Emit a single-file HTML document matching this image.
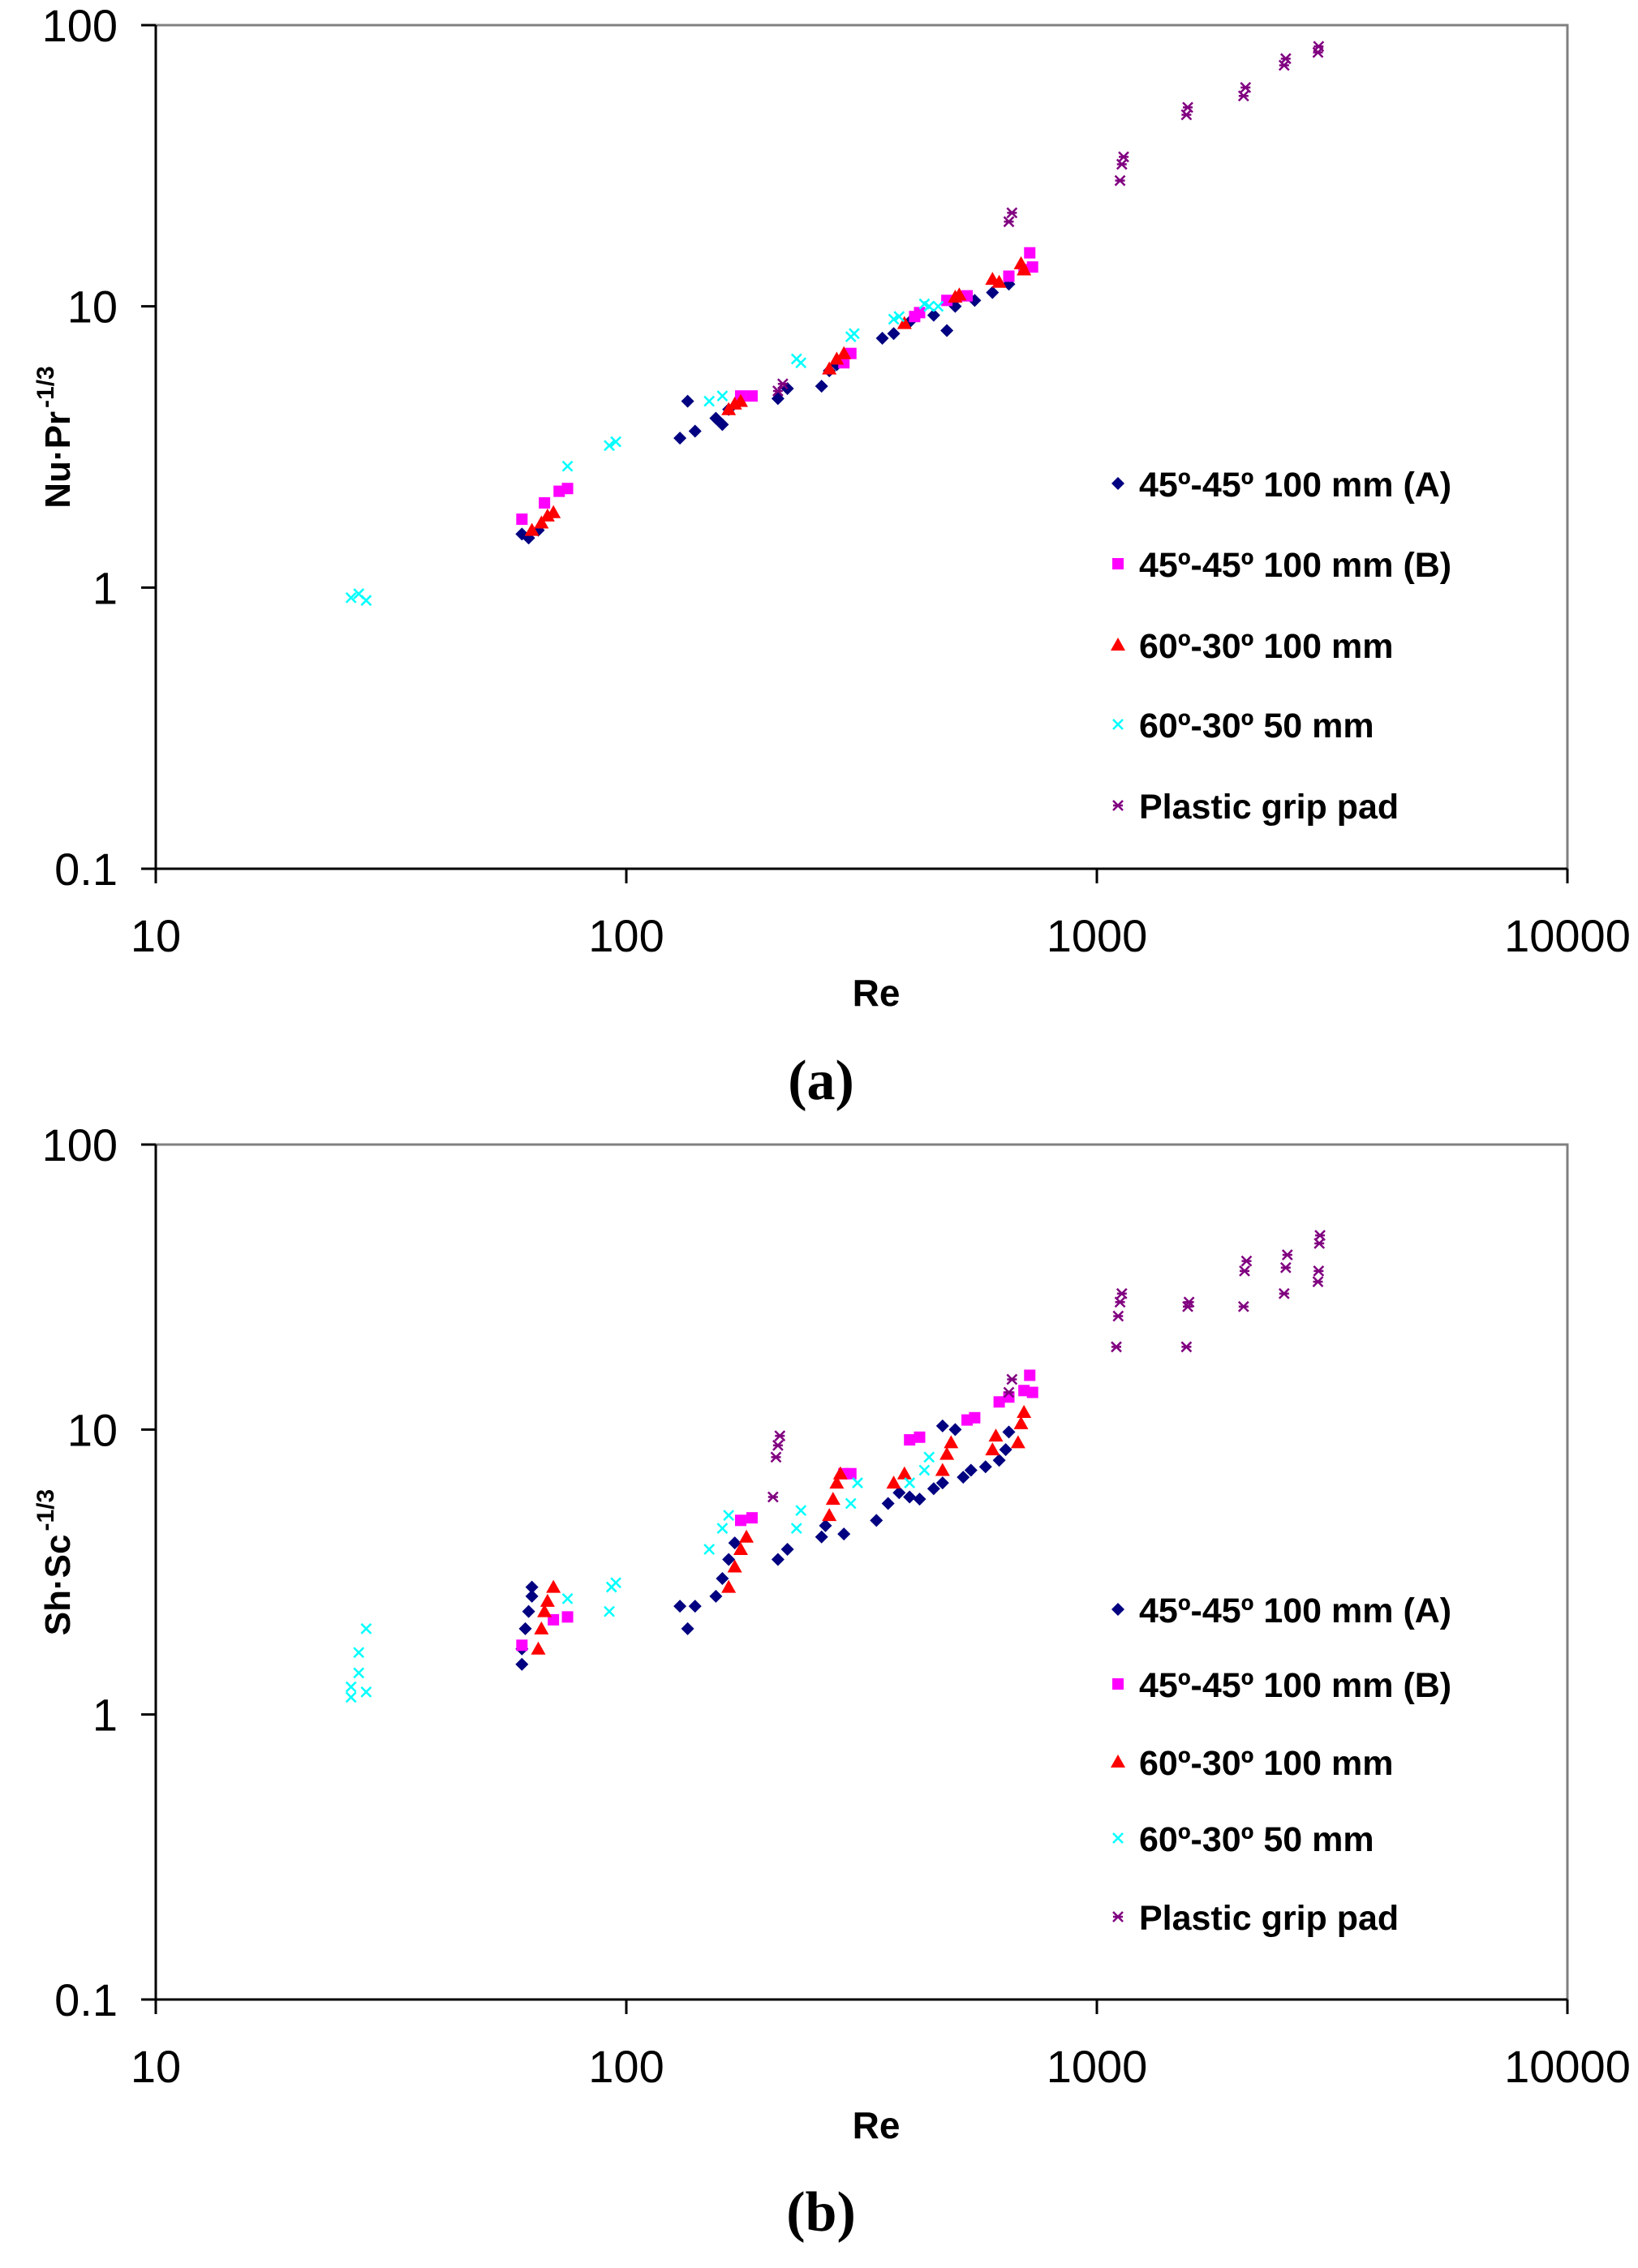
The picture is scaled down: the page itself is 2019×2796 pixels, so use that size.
<!DOCTYPE html>
<html><head><meta charset="utf-8"><style>
html,body{margin:0;padding:0;background:#fff;}
svg{display:block;font-family:"Liberation Sans",Arial,sans-serif;}
</style></head><body>
<svg id="fig" width="2019" height="2796" viewBox="0 0 2019 2796" xmlns="http://www.w3.org/2000/svg"></svg>
<script>
// ---------- Chart (a) data ----------
const seriesNames = ["45º-45º 100 mm (A)","45º-45º 100 mm (B)","60º-30º 100 mm","60º-30º 50 mm","Plastic grip pad"];
const xTicks = [10,100,1000,10000];
const xTickLabels = ["10","100","1000","10000"];
const yTicks = [0.1,1,10,100];
const yTickLabels = ["0.1","1","10","100"];

const aA_re = [60,62,65,130,135,140,155,160,165,210,220,260,270,280,350,370,400,450,480,500,550,600,650];
const aA_v  = [1.55,1.5,1.6,3.4,4.6,3.6,4.0,3.8,4.3,4.7,5.1,5.2,5.9,6.2,7.7,8.0,8.8,9.3,8.2,10,10.5,11.2,12.0];
const aB_re = [60,67,72,75,175,185,290,300,410,420,480,530,650,700,720,730];
const aB_v  = [1.75,2.0,2.2,2.25,4.8,4.8,6.3,6.8,9.2,9.5,10.5,10.9,12.8,13.5,15.5,13.8];
const aC_re = [63,66,68,70,165,170,175,270,280,290,390,500,510,600,620,690,700];
const aC_v  = [1.6,1.7,1.8,1.85,4.3,4.5,4.6,6.0,6.5,6.8,8.7,10.8,11,12.5,12.2,14.2,13.5];
const aD_re = [26,27,28,75,92,95,150,160,230,235,300,305,370,380,430,440,460];
const aD_v  = [0.92,0.95,0.9,2.7,3.2,3.3,4.6,4.8,6.5,6.3,7.8,8.0,9.0,9.2,10.2,10.0,10.0];
const aE_re = [210,215,650,660,1120,1130,1140,1550,1560,2050,2070,2500,2520,2950,2960];
const aE_v  = [5.0,5.3,20,21.5,28,32,34,48,51,56,60,72,76,80,84];

// ---------- Chart (b) data ----------
const bA_re = [60,60,61,62,63,63,130,135,140,155,160,165,170,210,220,260,265,290,340,360,380,400,420,450,470,500,520,540,580,620,640,650,470];
const bA_v  = [1.5,1.7,2.0,2.3,2.6,2.8,2.4,2.0,2.4,2.6,3.0,3.5,4.0,3.5,3.8,4.2,4.6,4.3,4.8,5.5,6.0,5.8,5.7,6.2,6.5,10,6.8,7.2,7.4,7.8,8.5,9.8,10.3];
const bB_re = [60,70,75,175,185,290,300,400,420,530,550,620,650,720,730,700];
const bB_v  = [1.75,2.15,2.2,4.8,4.9,7.0,7.0,9.2,9.4,10.8,11,12.5,13,15.5,13.5,13.7];
const bC_re = [65,66,67,68,70,165,170,175,180,270,275,280,285,370,390,470,480,490,600,610,680,690,700];
const bC_v  = [1.7,2.0,2.3,2.5,2.8,2.8,3.3,3.8,4.2,5.0,5.7,6.5,7.0,6.5,7.0,7.2,8.2,9.0,8.5,9.5,9.0,10.5,11.5];
const bD_re = [26,26,27,27,28,28,75,92,93,95,150,160,165,230,235,300,310,400,430,440];
const bD_v  = [1.15,1.25,1.4,1.65,2.0,1.2,2.55,2.3,2.8,2.9,3.8,4.5,5.0,4.5,5.2,5.5,6.5,6.5,7.2,8.0];
const bE_re = [205,208,210,212,650,660,1100,1110,1120,1130,1550,1560,1570,2050,2060,2080,2500,2520,2540,2950,2960,2970,2980];
const bE_v  = [5.8,8.0,8.8,9.5,13.5,15,19.5,25,28,30,19.5,27,28,27,36,39,30,37,41,33,36,45,48];

const NS = "http://www.w3.org/2000/svg";
const svg = document.getElementById("fig");
function mk(tag, attrs, parent){
  const e = document.createElementNS(NS, tag);
  for (const k in attrs) e.setAttribute(k, attrs[k]);
  (parent||svg).appendChild(e);
  return e;
}
const colors = ["#000080","#ff00ff","#ff0000","#00ffff","#800080"];

function marker(g, kind, cx, cy){
  let e;
  if (kind===0){
    e = mk("polygon",{points:`${cx},${cy-8} ${cx+8},${cy} ${cx},${cy+8} ${cx-8},${cy}`,fill:colors[0]},g);
  } else if (kind===1){
    e = mk("rect",{x:cx-7,y:cy-7,width:14,height:14,fill:colors[1]},g);
  } else if (kind===2){
    e = mk("polygon",{points:`${cx},${cy-9} ${cx+9},${cy+7} ${cx-9},${cy+7}`,fill:colors[2]},g);
  } else if (kind===3){
    e = mk("path",{d:`M${cx-6},${cy-6}L${cx+6},${cy+6}M${cx+6},${cy-6}L${cx-6},${cy+6}`,stroke:colors[3],"stroke-width":2.5,fill:"none"},g);
  } else {
    e = mk("path",{d:`M${cx-6},${cy-6}L${cx+6},${cy+6}M${cx+6},${cy-6}L${cx-6},${cy+6}M${cx-6},${cy}L${cx+6},${cy}`,stroke:colors[4],"stroke-width":2.5,fill:"none"},g);
  }
  return e;
}

function chart(id, top, bottom, series, ytitleMain, ytitleSup, legendY, captionY, captionText, reY){
  const L=192, R=1932;
  const xs = v => L + (Math.log10(v)-1)/3*(R-L);
  const ys = v => bottom - (Math.log10(v)+1)/3*(bottom-top);
  const g = mk("g",{});
  
  
  const fr = mk("path",{d:`M${L},${top}H${R}V${bottom}`,stroke:"#808080","stroke-width":3,fill:"none"},g);
  
  
  const ax = mk("path",{d:`M${L},${top}V${bottom}H${R}`,stroke:"#000","stroke-width":3,fill:"none"},g);
  
  
  yTicks.forEach((t,i)=>{
    const y = ys(t);
    mk("line",{x1:L-18,x2:L,y1:y,y2:y,stroke:"#000","stroke-width":3},g);
    const tx = mk("text",{x:145,y:y+20,"font-size":56,"text-anchor":"end",fill:"#000"},g);
    tx.textContent = yTickLabels[i];
    
    
  });
  xTicks.forEach((t,i)=>{
    const x = xs(t);
    mk("line",{x1:x,x2:x,y1:bottom,y2:bottom+18,stroke:"#000","stroke-width":3},g);
    const tx = mk("text",{x:x,y:bottom+102,"font-size":56,"text-anchor":"middle",fill:"#000"},g);
    tx.textContent = xTickLabels[i];
    
    
  });
  const re = mk("text",{x:1080,y:reY,"font-size":46,"font-weight":"bold","text-anchor":"middle"},g);
  re.textContent = "Re";
  
  
  const cy = (top+bottom)/2 - 12;
  const yt = mk("text",{x:0,y:0,"font-size":44,"font-weight":"bold","text-anchor":"middle",transform:`translate(86,${cy}) rotate(-90)`},g);
  
  
  const t1 = mk("tspan",{},yt); t1.textContent = ytitleMain;
  const t2 = mk("tspan",{dy:-20,"font-size":30,dx:4},yt); t2.textContent = ytitleSup;
  series.forEach((s,k)=>{
    const sg = mk("g",{},g);
    
    
    for (let i=0;i<s[0].length;i++){
      const m = marker(sg,k,xs(s[0][i]),ys(s[1][i]));
      
      
    }
  });
  const lg = mk("g",{},g);
  
  
  seriesNames.forEach((n,k)=>{
    const y = legendY[k];
    const eg = mk("g",{},lg);
    
    
    marker(eg,k,1378,y);
    const tx = mk("text",{x:1404,y:y+16,"font-size":43,"font-weight":"bold"},eg);
    tx.textContent = n;
  });
  const cap = mk("text",{x:1012,y:captionY,"font-size":70,"font-weight":"bold","text-anchor":"middle","font-family":"Liberation Serif, serif"},g);
  cap.textContent = captionText;
  
  
}

chart("a",31,1071,[[aA_re,aA_v],[aB_re,aB_v],[aC_re,aC_v],[aD_re,aD_v],[aE_re,aE_v]],
  "Nu·Pr","-1/3",[596,695,795,893,993],1355,"(a)",1240);
chart("b",1411,2465,[[bA_re,bA_v],[bB_re,bB_v],[bC_re,bC_v],[bD_re,bD_v],[bE_re,bE_v]],
  "Sh·Sc","-1/3",[1984,2076,2172,2266,2363],2750,"(b)",2636);
</script>
</body></html>
